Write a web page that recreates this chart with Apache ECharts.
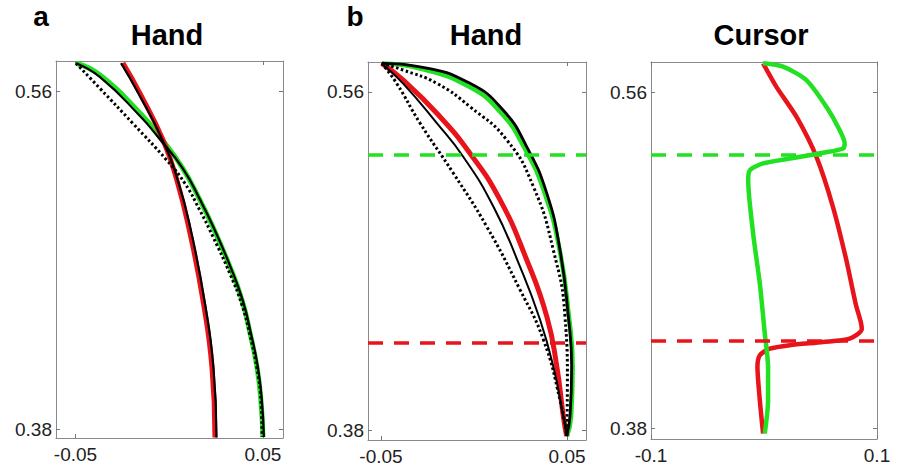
<!DOCTYPE html>
<html>
<head>
<meta charset="utf-8">
<script src="https://cdn.jsdelivr.net/npm/echarts@6/dist/echarts.min.js"></script>
<style>html,body{margin:0;padding:0;background:#fff;}#c{width:901px;height:469px;}</style>
</head>
<body>
<div id="c"></div>
<script>
// ---------- data (x, y) in metres ----------
// Panel a (Hand)
const aRed        = [[-0.0247,0.5753],[-0.0156,0.5591],[-0.0033,0.5342],[0.0041,0.5127],[0.0111,0.4844],[0.0180,0.4486],[0.0228,0.4129],[0.0244,0.3755]];
const aRedBlack   = [[-0.0257,0.5753],[-0.0164,0.5591],[-0.0036,0.5342],[0.0046,0.5127],[0.0119,0.4844],[0.0188,0.4486],[0.0236,0.4129],[0.0252,0.3755]];
const aGreen      = [[-0.0497,0.5752],[-0.0369,0.5689],[-0.0156,0.5486],[-0.0049,0.5358],[0.0068,0.5198],[0.0164,0.5022],[0.0233,0.4878],[0.0324,0.4665],[0.0388,0.4488],[0.0431,0.4312],[0.0468,0.4131],[0.0489,0.3955],[0.0500,0.3757]];
const aGreenBlack = [[-0.0497,0.5752],[-0.0369,0.5678],[-0.0156,0.5470],[-0.0049,0.5345],[0.0073,0.5190],[0.0169,0.5015],[0.0238,0.4873],[0.0329,0.4660],[0.0393,0.4484],[0.0436,0.4310],[0.0473,0.4130],[0.0494,0.3955],[0.0505,0.3757]];
const aDotted     = [[-0.0497,0.5752],[-0.0369,0.5617],[-0.0193,0.5430],[-0.0012,0.5233],[0.0084,0.5110],[0.0164,0.4966],[0.0233,0.4827],[0.0324,0.4628],[0.0388,0.4462],[0.0431,0.4301],[0.0468,0.4125],[0.0489,0.3955],[0.0495,0.3757]];
// Panel b (Hand)
const bGreen       = [[-0.0496,0.5752],[-0.0290,0.5725],[-0.0030,0.5630],[0.0140,0.5495],[0.0270,0.5305],[0.0380,0.5062],[0.0460,0.4761],[0.0510,0.4407],[0.0530,0.4141],[0.0522,0.3876],[0.0500,0.3770]];
const bOuterBlack  = [[-0.0496,0.5752],[-0.0290,0.5734],[-0.0022,0.5646],[0.0156,0.5504],[0.0283,0.5310],[0.0391,0.5062],[0.0462,0.4761],[0.0507,0.4407],[0.0525,0.4141],[0.0516,0.3876],[0.0498,0.3770]];
const bOuterDotted = [[-0.0496,0.5752],[-0.0382,0.5717],[-0.0200,0.5646],[-0.0022,0.5522],[0.0176,0.5345],[0.0319,0.5097],[0.0426,0.4761],[0.0489,0.4407],[0.0502,0.4053],[0.0498,0.3770]];
const bRed         = [[-0.0496,0.5752],[-0.0382,0.5664],[-0.0200,0.5487],[-0.0022,0.5274],[0.0140,0.5026],[0.0283,0.4708],[0.0391,0.4407],[0.0445,0.4141],[0.0480,0.3876],[0.0498,0.3770]];
const bInnerBlack  = [[-0.0496,0.5752],[-0.0382,0.5646],[-0.0200,0.5434],[-0.0058,0.5256],[0.0104,0.4991],[0.0247,0.4672],[0.0355,0.4389],[0.0426,0.4141],[0.0480,0.3876],[0.0498,0.3770]];
const bInnerDotted = [[-0.0496,0.5752],[-0.0416,0.5646],[-0.0290,0.5434],[-0.0111,0.5168],[0.0068,0.4885],[0.0247,0.4549],[0.0373,0.4283],[0.0462,0.3964],[0.0498,0.3770]];
// Panel c (Cursor)
const cRed   = [[-0.0008,0.5754],[0.0110,0.5628],[0.0287,0.5468],[0.0464,0.5253],[0.0610,0.4986],[0.0729,0.4700],[0.0810,0.4470],[0.0858,0.4365],[0.0865,0.4330],[0.0758,0.4280],[0.0522,0.4262],[0.0228,0.4245],[0.0051,0.4226],[-0.0037,0.4191],[-0.0058,0.4129],[-0.0037,0.3950],[-0.0008,0.3772]];
const cGreen = [[-0.0008,0.5754],[0.0169,0.5736],[0.0375,0.5664],[0.0552,0.5521],[0.0670,0.5396],[0.0714,0.5325],[0.0699,0.5298],[0.0522,0.5275],[0.0228,0.5244],[-0.0008,0.5218],[-0.0125,0.5182],[-0.0140,0.5129],[-0.0096,0.4842],[-0.0037,0.4575],[0.0007,0.4307],[0.0036,0.4129],[0.0036,0.3950],[0.0007,0.3772]];
// Target-jump levels (dashed)
const greenJumpY = 0.5265;
const redJumpY = 0.4269;
// Ticks
const abXTicks = [-0.05, 0.05];
const cXTicks = [-0.1, 0.1];
const yTicks = [0.56, 0.38];
const titles = ['Hand', 'Hand', 'Cursor'];
const panelLetters = ['a', 'b'];

const RED = '#e8141b', GREEN = '#22e022', BLACK = '#000';
const FONT = 'Liberation Sans, Arial, sans-serif';

const chart = echarts.init(document.getElementById('c'), null, {renderer: 'svg'});

const grids = [
  {left: 56, top: 61, width: 227, height: 377},
  {left: 368, top: 62, width: 218, height: 378},
  {left: 651, top: 62, width: 226, height: 377}
];
const xRanges = [[-0.0604, 0.0607], [-0.0570, 0.0602], [-0.1, 0.1]];
const yRanges = [[0.3752, 0.5764], [0.37495, 0.57595], [0.37427, 0.5761]];
const xTickSets = [abXTicks, abXTicks, cXTicks];

const xAxes = [], yAxes = [];
grids.forEach((g, i) => {
  ['bottom', 'top'].forEach((pos) => {
    xAxes.push({
      type: 'value', gridIndex: i, position: pos,
      min: xRanges[i][0], max: xRanges[i][1],
      splitLine: {show: false},
      axisLine: {show: true, onZero: false, lineStyle: {color: '#8a8a8a', width: 1}},
      axisTick: {show: true, inside: true, length: 4, customValues: xTickSets[i], lineStyle: {color: '#777'}},
      axisLabel: {show: pos === 'bottom', customValues: xTickSets[i], margin: 7, color: '#222', fontSize: 19, fontFamily: FONT,
        showMinLabel: true, showMaxLabel: true, hideOverlap: false,
        formatter: (v) => String(+v.toFixed(3))}
    });
  });
  ['left', 'right'].forEach((pos) => {
    yAxes.push({
      type: 'value', gridIndex: i, position: pos,
      min: yRanges[i][0], max: yRanges[i][1],
      splitLine: {show: false},
      axisLine: {show: true, onZero: false, lineStyle: {color: '#8a8a8a', width: 1}},
      axisTick: {show: true, inside: true, length: 4, customValues: yTicks, lineStyle: {color: '#777'}},
      axisLabel: {show: pos === 'left', customValues: yTicks, margin: 4, color: '#222', fontSize: 19, fontFamily: FONT,
        formatter: (v) => v.toFixed(2)}
    });
  });
});

function line(data, panel, color, width, type, z, smooth) {
  return {
    type: 'line', data: data, xAxisIndex: panel * 2, yAxisIndex: panel * 2,
    showSymbol: false, symbol: 'none', smooth: smooth === undefined ? 0.5 : smooth,
    lineStyle: {color: color, width: width, type: type || 'solid', cap: 'butt'},
    z: z, silent: true, animation: false
  };
}
function jumpLine(panel, y, color) {
  return {
    type: 'line', data: [], xAxisIndex: panel * 2, yAxisIndex: panel * 2, silent: true,
    markLine: {symbol: 'none', silent: true, precision: 5, label: {show: false}, animation: false,
      lineStyle: {color: color, width: 3.5, type: [15, 11]},
      data: [{yAxis: y}]},
    z: 1
  };
}

const series = [
  // panel a
  line(aGreen, 0, GREEN, 5, 'solid', 2),
  line(aRed, 0, RED, 5, 'solid', 2),
  line(aGreenBlack, 0, BLACK, 2.2, 'solid', 3),
  line(aRedBlack, 0, BLACK, 2.2, 'solid', 3),
  line(aDotted, 0, BLACK, 3, [2.5, 2.5], 4),
  // panel b
  jumpLine(1, greenJumpY, GREEN),
  jumpLine(1, redJumpY, RED),
  line(bGreen, 1, GREEN, 4.5, 'solid', 2),
  line(bRed, 1, RED, 5, 'solid', 2),
  line(bOuterBlack, 1, BLACK, 2.8, 'solid', 3),
  line(bInnerBlack, 1, BLACK, 2, 'solid', 3),
  line(bOuterDotted, 1, BLACK, 3, [2.5, 2.5], 4),
  line(bInnerDotted, 1, BLACK, 3, [2.5, 2.5], 4),
  // panel c
  jumpLine(2, greenJumpY, GREEN),
  jumpLine(2, redJumpY, RED),
  line(cRed, 2, RED, 4.5, 'solid', 2, 0.25),
  line(cGreen, 2, GREEN, 4.5, 'solid', 3, 0.25)
];

const graphics = [];
const titleCenters = [167, 486, 761];
titles.forEach((t, i) => {
  graphics.push({type: 'text', x: titleCenters[i], y: 35,
    style: {text: t, font: 'bold 29px ' + FONT, fill: '#000', align: 'center', verticalAlign: 'middle'}});
});
const letterPos = [[41, 16], [355, 16]];
panelLetters.forEach((t, i) => {
  graphics.push({type: 'text', x: letterPos[i][0], y: letterPos[i][1],
    style: {text: t, font: 'bold 28px ' + FONT, fill: '#000', align: 'center', verticalAlign: 'middle'}});
});

chart.setOption({
  animation: false,
  backgroundColor: '#fff',
  grid: grids,
  xAxis: xAxes,
  yAxis: yAxes,
  series: series,
  graphic: graphics
});
</script>
</body>
</html>
